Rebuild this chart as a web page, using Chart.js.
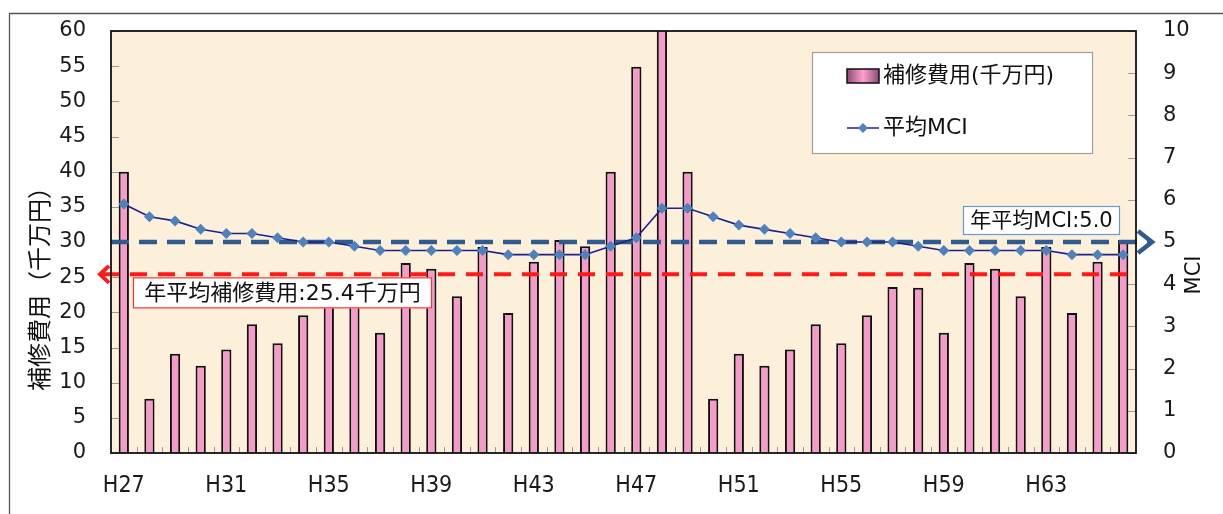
<!DOCTYPE html>
<html>
<head>
<meta charset="utf-8">
<script src="https://cdn.jsdelivr.net/npm/chart.js@4.4.1/dist/chart.umd.min.js"></script>
<style>
  html, body { margin: 0; padding: 0; background: #fff; }
  #wrap { width: 1223px; height: 514px; position: relative; }
</style>
</head>
<body>
<div id="wrap"><canvas id="c" width="1223" height="514"></canvas></div>
<script>
// Fiscal years (Heisei)
const years = ['H27','H28','H29','H30','H31','H32','H33','H34','H35','H36',
               'H37','H38','H39','H40','H41','H42','H43','H44','H45','H46',
               'H47','H48','H49','H50','H51','H52','H53','H54','H55','H56',
               'H57','H58','H59','H60','H61','H62','H63','H64','H65','H66'];

// Repair cost per year (10 million yen)
const repairCost = [40.0, 7.7, 14.1, 12.4, 14.7, 18.3, 15.6, 19.6, 23.6, 23.5,
                    17.1, 27.0, 26.2, 22.3, 29.3, 19.9, 27.2, 30.3, 29.4, 40.0,
                    54.9, 114.0, 40.0, 7.7, 14.1, 12.4, 14.7, 18.3, 15.6, 19.6,
                    23.6, 23.5, 17.1, 27.0, 26.2, 22.3, 29.3, 19.9, 27.2, 30.3];

// Average MCI per year
const avgMci = [5.9, 5.6, 5.5, 5.3, 5.2, 5.2, 5.1, 5.0, 5.0, 4.9,
                4.8, 4.8, 4.8, 4.8, 4.8, 4.7, 4.7, 4.7, 4.7, 4.9,
                5.1, 5.8, 5.8, 5.6, 5.4, 5.3, 5.2, 5.1, 5.0, 5.0,
                5.0, 4.9, 4.8, 4.8, 4.8, 4.8, 4.8, 4.7, 4.7, 4.7];

// Reference levels
const annualCostAverage = 25.4;
const annualMciAverage = 5.0;

// Axis ranges
const costMax = 60, costStep = 5;
const mciMax = 10, mciStep = 1;
const yearLabelEvery = 4;

const JP = '"DejaVu Sans", "Noto Sans CJK JP", sans-serif';
const BAR_FILL = '#F59BC9';
const LINE_COLOR = '#1F1F8C';
const MARKER_COLOR = '#4F81BD';
const COST_REF_COLOR = '#FF1A1A';
const MCI_REF_COLOR = '#2F5B8F';

function chevron(ctx, tipX, tipY, backX, half, color, width) {
  ctx.save();
  ctx.strokeStyle = color;
  ctx.lineWidth = width;
  ctx.lineJoin = 'miter';
  ctx.setLineDash([]);
  ctx.beginPath();
  ctx.moveTo(backX, tipY - half);
  ctx.lineTo(tipX, tipY);
  ctx.lineTo(backX, tipY + half);
  ctx.stroke();
  ctx.restore();
}

function dashed(ctx, x1, x2, y, color, width, dash) {
  ctx.save();
  ctx.strokeStyle = color;
  ctx.lineWidth = width;
  ctx.setLineDash(dash);
  ctx.beginPath();
  ctx.moveTo(x1, y);
  ctx.lineTo(x2, y);
  ctx.stroke();
  ctx.restore();
}

function textBox(ctx, x, y, w, h, border, text, size) {
  ctx.save();
  ctx.fillStyle = '#fff';
  ctx.fillRect(x, y, w, h);
  ctx.strokeStyle = border;
  ctx.lineWidth = 1.2;
  ctx.strokeRect(x + 0.5, y + 0.5, w - 1, h - 1);
  ctx.fillStyle = '#111';
  ctx.font = size + 'px ' + JP;
  ctx.textAlign = 'center';
  ctx.textBaseline = 'middle';
  ctx.fillText(text, x + w / 2, y + h / 2 + 1);
  ctx.restore();
}

// keep the value axes from reserving extra room above/below the plot
function fixVertical(width) {
  return s => { s.width = width; s.paddingTop = 12; s.paddingBottom = 12; };
}

const decor = {
  id: 'decor',
  beforeDraw(chart) {
    const { ctx, chartArea: a } = chart;
    const xs = chart.scales.x, ys = chart.scales.y, y1 = chart.scales.y1;
    ctx.save();
    ctx.fillStyle = '#fff';
    ctx.fillRect(0, 0, chart.width, chart.height);
    // outer frame
    ctx.strokeStyle = '#555';
    ctx.lineWidth = 1.3;
    ctx.beginPath();
    ctx.moveTo(9.5, chart.height);
    ctx.lineTo(9.5, 13.5);
    ctx.lineTo(chart.width, 13.5);
    ctx.stroke();
    // plot area
    ctx.fillStyle = '#FCF0DB';
    ctx.fillRect(a.left, a.top, a.right - a.left, a.bottom - a.top);
    // inner tick marks
    ctx.strokeStyle = '#9a9a9a';
    ctx.lineWidth = 1;
    ctx.beginPath();
    ys.ticks.forEach((t, i) => {
      const py = Math.round(ys.getPixelForTick(i)) + 0.5;
      ctx.moveTo(a.left, py); ctx.lineTo(a.left + 8, py);
    });
    y1.ticks.forEach((t, i) => {
      const py = Math.round(y1.getPixelForTick(i)) + 0.5;
      ctx.moveTo(a.right - 8, py); ctx.lineTo(a.right, py);
    });
    const n = years.length;
    for (let i = 1; i < n; i++) {
      const px = Math.round((xs.getPixelForValue(i - 1) + xs.getPixelForValue(i)) / 2) + 0.5;
      ctx.moveTo(px, a.bottom); ctx.lineTo(px, a.bottom - 6);
    }
    ctx.stroke();
    // year labels (slightly condensed face)
    ctx.fillStyle = '#1a1a1a';
    ctx.font = '23px "DejaVu Sans", sans-serif';
    ctx.textAlign = 'center';
    ctx.textBaseline = 'middle';
    years.forEach((label, i) => {
      if (i % yearLabelEvery !== 0) return;
      ctx.save();
      ctx.translate(xs.getPixelForValue(i), a.bottom + 33);
      ctx.scale(0.9, 1);
      ctx.fillText(label, 0, 0);
      ctx.restore();
    });
    // axis titles
    ctx.fillStyle = '#111';
    ctx.save();
    ctx.translate(39, 283);
    ctx.rotate(-Math.PI / 2);
    ctx.font = '24px "Noto Sans CJK JP", sans-serif';
    ctx.fillText('補修費用（千万円）', 0, 0);
    ctx.restore();
    ctx.save();
    ctx.translate(1195, 275);
    ctx.rotate(-Math.PI / 2);
    ctx.font = '21px "DejaVu Sans", sans-serif';
    ctx.fillText('MCI', 0, 0);
    ctx.restore();
    ctx.restore();
  },
  afterDatasetDraw(chart, args) {
    if (args.index !== 0) return;
    const { ctx, chartArea: a } = chart;
    const yCost = chart.scales.y.getPixelForValue(annualCostAverage);
    const yMci = chart.scales.y1.getPixelForValue(annualMciAverage);
    // cost average reference
    dashed(ctx, a.left - 9, a.right - 5, yCost, COST_REF_COLOR, 4, [17, 11]);
    chevron(ctx, a.left - 11, yCost, a.left - 2, 8.5, COST_REF_COLOR, 4);
    // MCI average reference
    dashed(ctx, a.left, a.right + 14, yMci, MCI_REF_COLOR, 4.5, [18, 10]);
    chevron(ctx, a.right + 16, yMci, a.right + 2, 11, MCI_REF_COLOR, 4.5);
  },
  afterDatasetsDraw(chart) {
    const { ctx, chartArea: a } = chart;
    const yCost = chart.scales.y.getPixelForValue(annualCostAverage);
    const yMci = chart.scales.y1.getPixelForValue(annualMciAverage);
    ctx.save();
    // plot border
    ctx.strokeStyle = '#111';
    ctx.lineWidth = 1.8;
    ctx.strokeRect(a.left, a.top, a.right - a.left, a.bottom - a.top);
    ctx.restore();

    textBox(ctx, a.left + 22, yCost + 3, 299, 31, '#FF3030',
            '年平均補修費用:' + annualCostAverage.toFixed(1) + '千万円', 22);
    textBox(ctx, a.right - 173, yMci - 36, 157, 29, '#6F97C8',
            '年平均MCI:' + annualMciAverage.toFixed(1), 21);

    // legend
    const lx = a.right - 324, ly = a.top + 21, lw = 281, lh = 102;
    ctx.save();
    ctx.fillStyle = '#fff';
    ctx.fillRect(lx, ly, lw, lh);
    ctx.strokeStyle = '#a0a0a0';
    ctx.lineWidth = 1.2;
    ctx.strokeRect(lx + 0.5, ly + 0.5, lw - 1, lh - 1);
    const sx = lx + 35, sy = ly + 17, sw = 32, sh = 14;
    const g = ctx.createLinearGradient(sx, 0, sx + sw, 0);
    g.addColorStop(0, '#8E4A74');
    g.addColorStop(0.5, '#FF9FD0');
    g.addColorStop(1, '#8E4A74');
    ctx.fillStyle = g;
    ctx.fillRect(sx, sy, sw, sh);
    ctx.strokeStyle = '#111';
    ctx.lineWidth = 1.5;
    ctx.strokeRect(sx, sy, sw, sh);
    const ly2 = ly + 76;
    ctx.strokeStyle = LINE_COLOR;
    ctx.lineWidth = 1.5;
    ctx.beginPath();
    ctx.moveTo(sx, ly2); ctx.lineTo(sx + sw, ly2);
    ctx.stroke();
    ctx.fillStyle = MARKER_COLOR;
    ctx.beginPath();
    const mx = sx + sw / 2;
    ctx.moveTo(mx, ly2 - 5); ctx.lineTo(mx + 5, ly2); ctx.lineTo(mx, ly2 + 5); ctx.lineTo(mx - 5, ly2);
    ctx.closePath();
    ctx.fill();
    ctx.fillStyle = '#111';
    ctx.font = '22px ' + JP;
    ctx.textAlign = 'left';
    ctx.textBaseline = 'middle';
    ctx.fillText('補修費用(千万円)', sx + 36, sy + sh / 2);
    ctx.fillText('平均MCI', sx + 36, ly2);
    ctx.restore();
  }
};

new Chart(document.getElementById('c'), {
  type: 'bar',
  data: {
    labels: years,
    datasets: [
      {
        type: 'bar',
        label: '補修費用(千万円)',
        data: repairCost,
        yAxisID: 'y',
        backgroundColor: BAR_FILL,
        borderColor: '#111',
        borderWidth: 2,
        barPercentage: 0.4,
        categoryPercentage: 1.0,
        order: 1
      },
      {
        type: 'line',
        label: '平均MCI',
        data: avgMci,
        yAxisID: 'y1',
        borderColor: LINE_COLOR,
        borderWidth: 1.6,
        tension: 0,
        pointStyle: 'rectRot',
        pointRadius: 5.5,
        pointBackgroundColor: MARKER_COLOR,
        pointBorderColor: MARKER_COLOR,
        pointBorderWidth: 0,
        order: 0
      }
    ]
  },
  options: {
    responsive: false,
    animation: false,
    events: [],
    layout: { padding: { top: 31, left: 0, right: 0, bottom: 0 } },
    plugins: { legend: { display: false }, tooltip: { enabled: false } },
    scales: {
      x: {
        grid: { display: false },
        border: { display: false },
        ticks: { display: false },
        afterFit: s => { s.height = 61; }
      },
      y: {
        position: 'left',
        min: 0,
        max: costMax,
        grid: { display: false, drawTicks: false },
        border: { display: false },
        ticks: {
          stepSize: costStep,
          padding: 25,
          color: '#1a1a1a',
          font: { family: '"DejaVu Sans", sans-serif', size: 21 }
        },
        afterFit: fixVertical(111)
      },
      y1: {
        position: 'right',
        min: 0,
        max: mciMax,
        grid: { display: false, drawTicks: false },
        border: { display: false },
        ticks: {
          stepSize: mciStep,
          padding: 27,
          color: '#1a1a1a',
          font: { family: '"DejaVu Sans", sans-serif', size: 21 }
        },
        afterFit: fixVertical(87)
      }
    }
  },
  plugins: [decor]
});
</script>
</body>
</html>
